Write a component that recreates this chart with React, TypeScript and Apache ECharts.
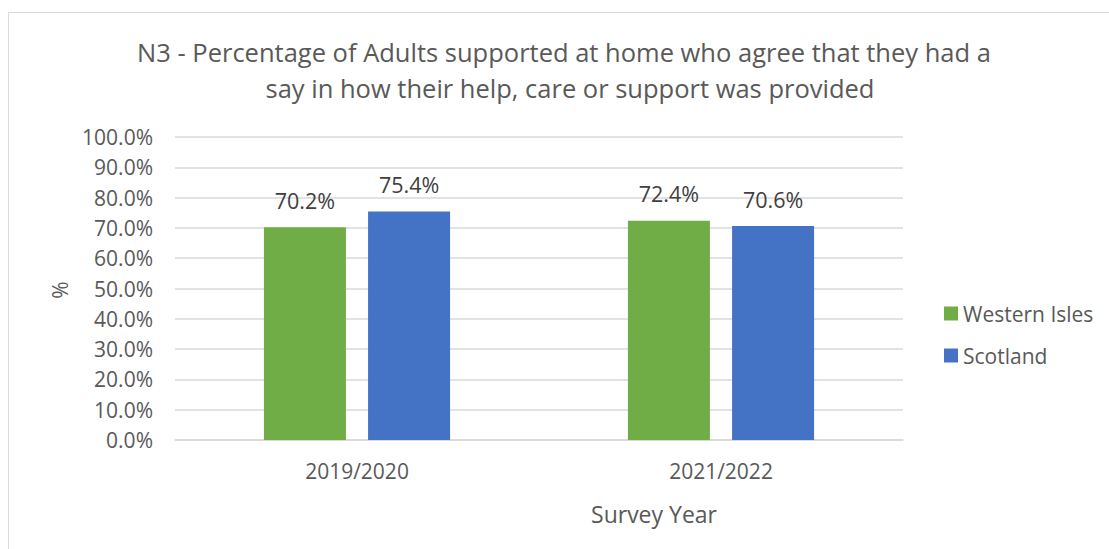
import React, { useEffect, useRef } from "react";
import * as echarts from "echarts";

const categories = ["2019/2020", "2021/2022"];
const westernIsles = [70.2, 72.4];
const scotland = [75.4, 70.6];
const seriesNames = ["Western Isles", "Scotland"];
const titleLines = [
  "N3 - Percentage of Adults supported at home who agree that they had a",
  "say in how their help, care or support was provided",
];

const FONT = "Open Sans";
const GREY = "#595959";

export default function App() {
  const ref = useRef<HTMLDivElement>(null);
  useEffect(() => {
    if (!ref.current) return;
    const chart = echarts.init(ref.current, undefined, { renderer: "svg" });
    const label = {
      show: true,
      position: "top",
      distance: 16,
      color: "#404040",
      fontFamily: FONT,
      fontSize: 21.5,
      formatter: (p: any) => p.value.toFixed(1) + "%",
    };
    chart.setOption({
      animation: false,
      backgroundColor: "#ffffff",
      textStyle: { fontFamily: FONT },
      graphic: [
        {
          type: "rect",
          shape: { x: 8.5, y: 12.5, width: 1120, height: 560 },
          style: { fill: "none", stroke: "#d9d9d9", lineWidth: 1 },
          silent: true,
        },
        {
          type: "text",
          x: 564,
          y: 52,
          style: {
            text: titleLines[0],
            fontFamily: FONT,
            fontSize: 25.5,
            fill: GREY,
            textAlign: "center",
            textVerticalAlign: "middle",
          },
        },
        {
          type: "text",
          x: 570,
          y: 88,
          style: {
            text: titleLines[1],
            fontFamily: FONT,
            fontSize: 25.5,
            fill: GREY,
            textAlign: "center",
            textVerticalAlign: "middle",
          },
        },
        {
          type: "text",
          x: 654,
          y: 514,
          style: {
            text: "Survey Year",
            fontFamily: FONT,
            fontSize: 23,
            fill: GREY,
            textAlign: "center",
            textVerticalAlign: "middle",
          },
        },
        {
          type: "text",
          x: 60,
          y: 290,
          rotation: Math.PI / 2,
          style: {
            text: "%",
            fontFamily: FONT,
            fontSize: 21,
            fill: GREY,
            textAlign: "center",
            textVerticalAlign: "middle",
          },
        },
      ],
      legend: {
        orient: "vertical",
        left: 944,
        top: 303,
        padding: 0,
        itemWidth: 14,
        itemHeight: 14,
        itemGap: 21,
        icon: "rect",
        textStyle: { fontFamily: FONT, fontSize: 21, color: GREY },
        data: seriesNames,
      },
      grid: { left: 175, right: 206, top: 137, bottom: 109 },
      xAxis: {
        type: "category",
        data: categories,
        axisLine: { lineStyle: { color: "#d9d9d9", width: 1.5 } },
        axisTick: { show: false },
        axisLabel: { color: GREY, fontFamily: FONT, fontSize: 21, margin: 20 },
      },
      yAxis: {
        type: "value",
        min: 0,
        max: 100,
        interval: 10,
        axisLine: { show: false },
        axisTick: { show: false },
        splitLine: { lineStyle: { color: "#d9d9d9", width: 1.5 } },
        axisLabel: {
          color: GREY,
          fontFamily: FONT,
          fontSize: 21,
          margin: 22,
          formatter: (v: number) => v.toFixed(1) + "%",
        },
      },
      series: [
        {
          name: seriesNames[0],
          type: "bar",
          data: westernIsles,
          barWidth: 82,
          barGap: "27%",
          itemStyle: { color: "#70AD47" },
          label,
        },
        {
          name: seriesNames[1],
          type: "bar",
          data: scotland,
          barWidth: 82,
          barGap: "27%",
          itemStyle: { color: "#4472C4" },
          label,
        },
      ],
    });
    return () => chart.dispose();
  }, []);
  return (
    <div
      ref={ref}
      style={{ position: "fixed", left: 0, top: 0, width: 1109, height: 549 }}
    />
  );
}
